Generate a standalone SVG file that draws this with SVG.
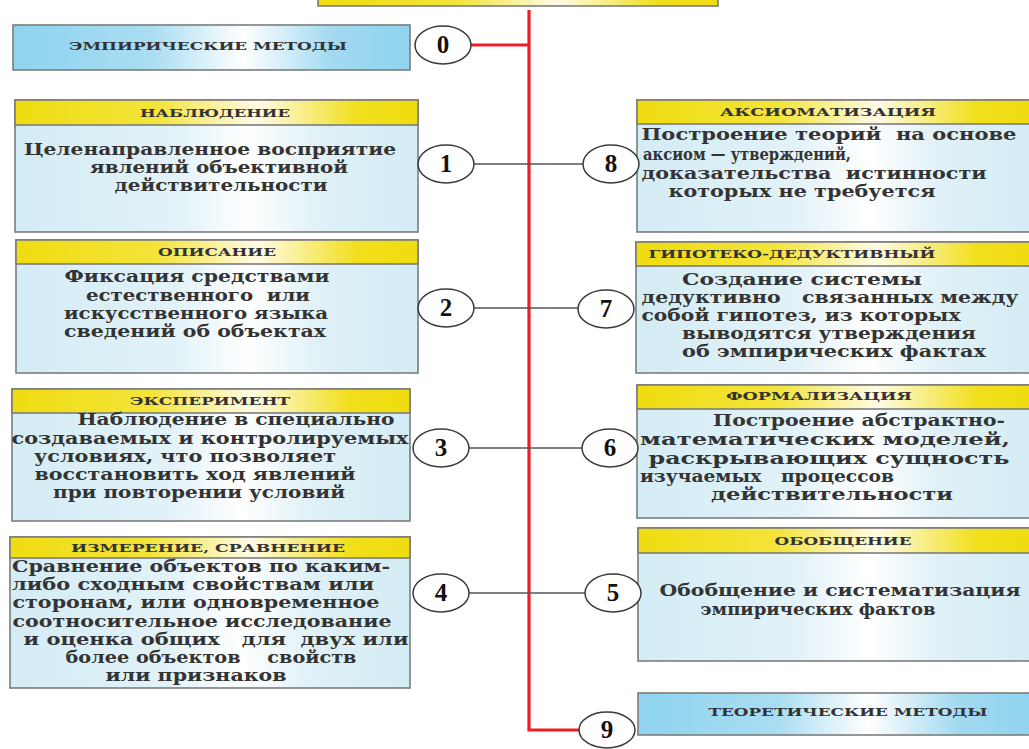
<svg xmlns="http://www.w3.org/2000/svg" width="1029" height="749" viewBox="0 0 1029 749">
<defs>
<linearGradient id="gY" x1="0" y1="0" x2="1" y2="0">
<stop offset="0" stop-color="#efdc10"/>
<stop offset="0.35" stop-color="#f3e43a"/>
<stop offset="0.6" stop-color="#fffbe6"/>
<stop offset="0.85" stop-color="#f1df1c"/>
<stop offset="1" stop-color="#efdc10"/>
</linearGradient>
<linearGradient id="gL" x1="0" y1="0" x2="1" y2="0">
<stop offset="0" stop-color="#d4ecf5"/>
<stop offset="0.4" stop-color="#e2f2f8"/>
<stop offset="0.58" stop-color="#ffffff"/>
<stop offset="0.75" stop-color="#e0f1f7"/>
<stop offset="1" stop-color="#d4ecf5"/>
</linearGradient>
<linearGradient id="gB" x1="0" y1="0" x2="1" y2="0">
<stop offset="0" stop-color="#8fd3ef"/>
<stop offset="0.35" stop-color="#a9ddf2"/>
<stop offset="0.58" stop-color="#ffffff"/>
<stop offset="0.8" stop-color="#a3daf1"/>
<stop offset="1" stop-color="#8fd3ef"/>
</linearGradient>
<style>
.box{stroke:#7c7c7c;stroke-width:1.6}
.hd{fill:url(#gY)}
.bd{fill:url(#gL)}
.bl{fill:url(#gB)}
text{font-family:"DejaVu Serif","Liberation Serif",serif;font-weight:bold;fill:#333333;white-space:pre}
.h{font-size:11.5px;text-anchor:middle}
.t{font-size:17px;text-anchor:middle}
.n{font-family:"Liberation Serif","DejaVu Serif",serif;font-size:25px;text-anchor:middle;fill:#111}
.c{fill:#ffffff;stroke:#3a3a3a;stroke-width:1.5}
.red{stroke:#ee1c24;stroke-width:3.2;fill:none}
.blk{stroke:#555;stroke-width:1.3;fill:none}
</style>
</defs>
<rect width="1029" height="749" fill="#ffffff"/>

<g id="connectors">
<path class="red" d="M529 10 V730 H580"/>
<path class="red" d="M471 45 H529"/>
<path class="blk" d="M474 164 H583"/>
<path class="blk" d="M474 308 H578"/>
<path class="blk" d="M469 448 H582"/>
<path class="blk" d="M469 593 H585"/>
</g>

<g id="top">
<rect class="box hd" x="318" y="-10" width="400" height="16"/>
</g>

<g id="empirical">
<rect class="box bl" x="13" y="25" width="397" height="45"/>
<text class="h" x="208" y="50" textLength="278" lengthAdjust="spacingAndGlyphs">ЭМПИРИЧЕСКИЕ МЕТОДЫ</text>
</g>

<g id="node1">
<rect class="box bd" x="15" y="100" width="403" height="132"/>
<rect class="box hd" x="15" y="100" width="403" height="25"/>
<text class="h" x="215" y="117" textLength="150" lengthAdjust="spacingAndGlyphs">НАБЛЮДЕНИЕ</text>
<text class="t" x="210" y="155" textLength="372" lengthAdjust="spacingAndGlyphs">Целенаправленное восприятие</text>
<text class="t" x="219" y="173" textLength="258" lengthAdjust="spacingAndGlyphs">явлений объективной</text>
<text class="t" x="221" y="191" textLength="213" lengthAdjust="spacingAndGlyphs">действительности</text>
</g>

<g id="node2">
<rect class="box bd" x="16" y="240" width="402" height="133"/>
<rect class="box hd" x="16" y="240" width="402" height="24"/>
<text class="h" x="217" y="256" textLength="118" lengthAdjust="spacingAndGlyphs">ОПИСАНИЕ</text>
<text class="t" x="197" y="282" textLength="265" lengthAdjust="spacingAndGlyphs">Фиксация средствами</text>
<text class="t" x="198" y="301" textLength="224" lengthAdjust="spacingAndGlyphs" xml:space="preserve">естественного  или</text>
<text class="t" x="196" y="319" textLength="264" lengthAdjust="spacingAndGlyphs">искусственного языка</text>
<text class="t" x="195" y="337" textLength="262" lengthAdjust="spacingAndGlyphs">сведений об объектах</text>
</g>

<g id="node3">
<rect class="box bd" x="12" y="389" width="398" height="132"/>
<rect class="box hd" x="12" y="389" width="398" height="24"/>
<text class="h" x="210" y="405" textLength="160" lengthAdjust="spacingAndGlyphs">ЭКСПЕРИМЕНТ</text>
<text class="t" x="236" y="425" textLength="317" lengthAdjust="spacingAndGlyphs">Наблюдение в специально</text>
<text class="t" x="210" y="444" textLength="397" lengthAdjust="spacingAndGlyphs">создаваемых и контролируемых</text>
<text class="t" x="185" y="462" textLength="302" lengthAdjust="spacingAndGlyphs">условиях, что позволяет</text>
<text class="t" x="195" y="480" textLength="321" lengthAdjust="spacingAndGlyphs">восстановить ход явлений</text>
<text class="t" x="199" y="498" textLength="292" lengthAdjust="spacingAndGlyphs">при повторении условий</text>
</g>

<g id="node4">
<rect class="box bd" x="10" y="537" width="400" height="151"/>
<rect class="box hd" x="10" y="537" width="400" height="21"/>
<text class="h" x="208" y="552" textLength="274" lengthAdjust="spacingAndGlyphs">ИЗМЕРЕНИЕ, СРАВНЕНИЕ</text>
<text class="t" x="201" y="572" textLength="378" lengthAdjust="spacingAndGlyphs">Сравнение объектов по каким-</text>
<text class="t" x="193" y="590" textLength="362" lengthAdjust="spacingAndGlyphs">либо сходным свойствам или</text>
<text class="t" x="196" y="608" textLength="367" lengthAdjust="spacingAndGlyphs">сторонам, или одновременное</text>
<text class="t" x="202" y="627" textLength="379" lengthAdjust="spacingAndGlyphs">соотносительное исследование</text>
<text class="t" x="216" y="645" textLength="385" lengthAdjust="spacingAndGlyphs" xml:space="preserve">и оценка общих   для  двух или</text>
<text class="t" x="211" y="663" textLength="291" lengthAdjust="spacingAndGlyphs" xml:space="preserve">более объектов    свойств</text>
<text class="t" x="196" y="681" textLength="181" lengthAdjust="spacingAndGlyphs">или признаков</text>
</g>

<g id="node8">
<rect class="box bd" x="637" y="100" width="400" height="132"/>
<rect class="box hd" x="637" y="100" width="400" height="24"/>
<text class="h" x="828" y="116" textLength="216" lengthAdjust="spacingAndGlyphs">АКСИОМАТИЗАЦИЯ</text>
<text class="t" x="829" y="140" textLength="375" lengthAdjust="spacingAndGlyphs" xml:space="preserve">Построение теорий  на основе</text>
<text class="t" x="747" y="160" textLength="208" lengthAdjust="spacingAndGlyphs">аксиом — утверждений,</text>
<text class="t" x="814" y="179" textLength="345" lengthAdjust="spacingAndGlyphs" xml:space="preserve">доказательства  истинности</text>
<text class="t" x="802" y="197" textLength="267" lengthAdjust="spacingAndGlyphs">которых не требуется</text>
</g>

<g id="node7">
<rect class="box bd" x="636" y="242" width="401" height="131"/>
<rect class="box hd" x="636" y="242" width="401" height="24"/>
<text class="h" x="792" y="258" textLength="287" lengthAdjust="spacingAndGlyphs">ГИПОТЕКО-ДЕДУКТИВНЫЙ</text>
<text class="t" x="802" y="285" textLength="240" lengthAdjust="spacingAndGlyphs">Создание системы</text>
<text class="t" x="830" y="303" textLength="377" lengthAdjust="spacingAndGlyphs" xml:space="preserve">дедуктивно   связанных между</text>
<text class="t" x="801" y="321" textLength="319" lengthAdjust="spacingAndGlyphs">собой гипотез, из которых</text>
<text class="t" x="829" y="339" textLength="294" lengthAdjust="spacingAndGlyphs">выводятся утверждения</text>
<text class="t" x="834" y="357" textLength="304" lengthAdjust="spacingAndGlyphs">об эмпирических фактах</text>
</g>

<g id="node6">
<rect class="box bd" x="637" y="385" width="400" height="133"/>
<rect class="box hd" x="637" y="385" width="400" height="24"/>
<text class="h" x="819" y="400" textLength="186" lengthAdjust="spacingAndGlyphs">ФОРМАЛИЗАЦИЯ</text>
<text class="t" x="859" y="426" textLength="292" lengthAdjust="spacingAndGlyphs">Построение абстрактно-</text>
<text class="t" x="825" y="445" textLength="370" lengthAdjust="spacingAndGlyphs">математических моделей,</text>
<text class="t" x="829" y="464" textLength="361" lengthAdjust="spacingAndGlyphs">раскрывающих сущность</text>
<text class="t" x="767" y="482" textLength="254" lengthAdjust="spacingAndGlyphs" xml:space="preserve">изучаемых   процессов</text>
<text class="t" x="832" y="500" textLength="242" lengthAdjust="spacingAndGlyphs">действительности</text>
</g>

<g id="node5">
<rect class="box bd" x="638" y="528" width="399" height="133"/>
<rect class="box hd" x="638" y="528" width="399" height="25"/>
<text class="h" x="843" y="545" textLength="137" lengthAdjust="spacingAndGlyphs">ОБОБЩЕНИЕ</text>
<text class="t" x="840" y="596" textLength="361" lengthAdjust="spacingAndGlyphs">Обобщение и систематизация</text>
<text class="t" x="818" y="615" textLength="235" lengthAdjust="spacingAndGlyphs">эмпирических фактов</text>
</g>

<g id="theoretical">
<rect class="box bl" x="638" y="693" width="399" height="42"/>
<text class="h" x="848" y="716" textLength="279" lengthAdjust="spacingAndGlyphs">ТЕОРЕТИЧЕСКИЕ МЕТОДЫ</text>
</g>

<g id="c0"><ellipse class="c" cx="443" cy="45" rx="28" ry="19"/><text class="n" x="443" y="53">0</text></g>
<g id="c1"><ellipse class="c" cx="446" cy="164" rx="28" ry="19"/><text class="n" x="446" y="172">1</text></g>
<g id="c2"><ellipse class="c" cx="446" cy="308" rx="28" ry="19"/><text class="n" x="446" y="316">2</text></g>
<g id="c3"><ellipse class="c" cx="441" cy="448" rx="28" ry="19"/><text class="n" x="441" y="456">3</text></g>
<g id="c4"><ellipse class="c" cx="441" cy="593" rx="28" ry="19"/><text class="n" x="441" y="601">4</text></g>
<g id="c8"><ellipse class="c" cx="611" cy="164" rx="28" ry="19"/><text class="n" x="611" y="172">8</text></g>
<g id="c7"><ellipse class="c" cx="606" cy="309" rx="28" ry="19"/><text class="n" x="606" y="317">7</text></g>
<g id="c6"><ellipse class="c" cx="610" cy="448" rx="28" ry="19"/><text class="n" x="610" y="456">6</text></g>
<g id="c5"><ellipse class="c" cx="613" cy="593" rx="28" ry="19"/><text class="n" x="613" y="601">5</text></g>
<g id="c9"><ellipse class="c" cx="607" cy="730" rx="28" ry="18"/><text class="n" x="607" y="738">9</text></g>
</svg>
